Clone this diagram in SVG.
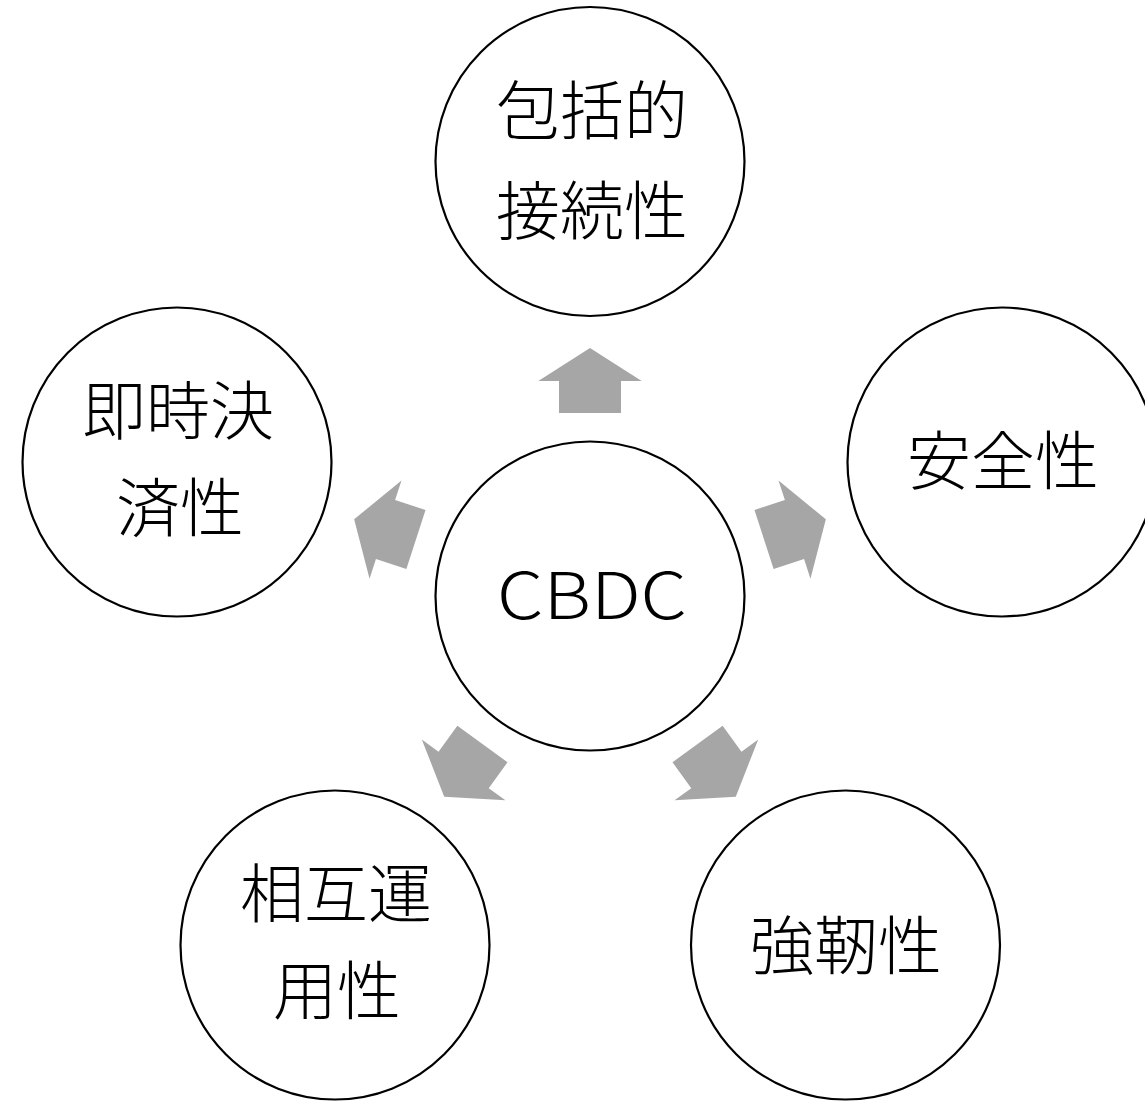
<svg xmlns="http://www.w3.org/2000/svg" width="1145" height="1101" viewBox="0 0 1145 1101">
<style>
.node circle{fill:#fff;stroke:#000;stroke-width:2.2}
.t{font-family:"Noto Sans CJK JP","Noto Sans",sans-serif;font-size:64px;font-weight:300;fill:#000;text-anchor:middle;dominant-baseline:central}
.arrow{fill:#a6a6a6}
</style>
<defs>
<polygon id="arr" points="559,413 559,381 538.3,381 590,348 641.7,381 621,381 621,413"/>
</defs>
<rect width="1145" height="1101" fill="#fff"/>
<g id="connectors">
<use href="#arr" class="arrow"/>
<use href="#arr" class="arrow" transform="rotate(72 590 596)"/>
<use href="#arr" class="arrow" transform="rotate(144 590 596)"/>
<use href="#arr" class="arrow" transform="rotate(216 590 596)"/>
<use href="#arr" class="arrow" transform="rotate(288 590 596)"/>
</g>
<g id="node-center" class="node"><circle cx="590" cy="596" r="154.5"/><text class="t" x="592" y="591" font-size="76" textLength="190" lengthAdjust="spacingAndGlyphs">CBDC</text></g>
<g id="node-top" class="node"><circle cx="590" cy="161.5" r="154.5"/><text class="t" x="592" y="106">包括的</text><text class="t" x="592" y="206">接続性</text></g>
<g id="node-left" class="node"><circle cx="177" cy="462" r="154.5"/><text class="t" x="178" y="406">即時決</text><text class="t" x="180" y="503">済性</text></g>
<g id="node-right" class="node"><circle cx="1002" cy="462" r="154.5"/><text class="t" x="1003" y="456">安全性</text></g>
<g id="node-bl" class="node"><circle cx="335" cy="945" r="154.5"/><text class="t" x="336" y="889">相互運</text><text class="t" x="337" y="986">用性</text></g>
<g id="node-br" class="node"><circle cx="845.5" cy="945" r="154.5"/><text class="t" x="846" y="941">強靭性</text></g>
</svg>
